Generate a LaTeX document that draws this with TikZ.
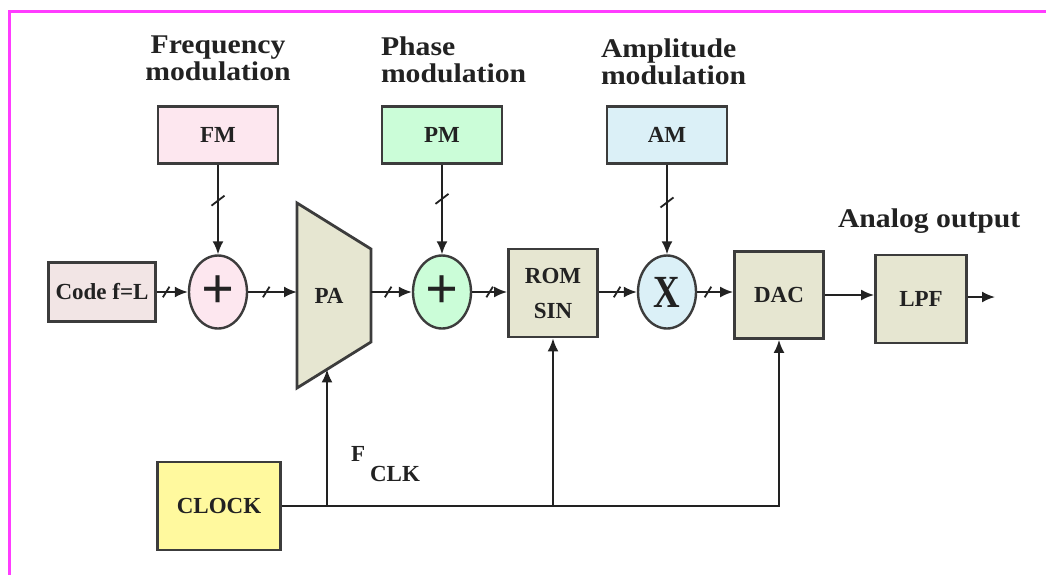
\documentclass[tikz,border=0pt]{standalone}
\usepackage{fontspec}
\setmainfont{Liberation Serif}
\newfontfamily\headserif{Liberation Serif}[FakeStretch=1.1]
\newfontfamily\narrowserif{Liberation Serif}[FakeStretch=0.8]
\usetikzlibrary{arrows.meta,shapes.geometric,decorations.markings}
\definecolor{framepink}{HTML}{FF3CFF}
\definecolor{edgegray}{HTML}{3C3C3C}
\definecolor{inkgray}{HTML}{222222}
\definecolor{codefill}{HTML}{F2E5E5}
\definecolor{fmfill}{HTML}{FDE7EF}
\definecolor{pmfill}{HTML}{CBFDD8}
\definecolor{amfill}{HTML}{DBF0F7}
\definecolor{blockfill}{HTML}{E6E6D1}
\definecolor{clockfill}{HTML}{FFF99E}
\begin{document}
\begin{tikzpicture}[x=1pt,y=-1pt,line width=2pt,color=inkgray,
  arr/.style={-{Latex[length=13pt,width=11pt]}},
  block/.style={draw=edgegray,line width=2.8pt,inner sep=0pt,align=center,font=\bfseries\fontsize{23}{35}\selectfont},
  summer/.style={ellipse,draw=edgegray,line width=2.4pt,minimum width=58pt,minimum height=73pt,inner sep=0pt},
  head/.style={inner sep=0pt,align=left,font=\headserif\bfseries\fontsize{27}{27}\selectfont},
  lab/.style={inner sep=0pt,font=\bfseries\fontsize{23}{23}\selectfont},
  bus/.style={arr,postaction={decorate,decoration={markings,mark=at position #1 with
    {\pgftransformresetnontranslations\draw[-,line width=1.8pt] (-3.3pt,-5.3pt)--(3.3pt,5.3pt);}}}},
  vbus/.style={arr,postaction={decorate,decoration={markings,mark=at position #1 with
    {\pgftransformresetnontranslations\draw[-,line width=1.8pt] (-6.5pt,-5pt)--(6.5pt,5pt);}}}}]
  \fill[white] (0,0) rectangle (1046,575);
  \useasboundingbox (0,0) rectangle (1046,575);
  \draw[framepink,line width=3pt] (9,575) -- (9,11.5) -- (1046,11.5);
  % modulation inputs
  \node[head,align=center,anchor=north] (fmlab) at (218,35) {Frequency\\modulation};
  \node[head,anchor=north west] (pmlab) at (380,36) {Phase\\modulation};
  \node[head,anchor=north west] (amlab) at (600,38) {Amplitude\\modulation};
  \node[block,fill=fmfill,minimum width=120pt,minimum height=57pt] (fm) at (218,135) {FM};
  \node[block,fill=pmfill,minimum width=120pt,minimum height=57pt] (pm) at (442,135) {PM};
  \node[block,fill=amfill,minimum width=120pt,minimum height=57pt] (am) at (667,135) {AM};
  % main chain
  \node[block,fill=codefill,minimum width=107pt,minimum height=59pt] (code) at (102,292) {Code f=L};
  \node[summer,fill=fmfill,font=\bfseries\fontsize{58}{58}\selectfont] (fmadd) at (218,292) {+};
  \draw[draw=edgegray,line width=2.8pt,fill=blockfill] (297,203) -- (371,249) -- (371,342) -- (297,388) -- cycle;
  \node[lab] (pa) at (329,296) {PA};
  \coordinate (pa-w) at (297,292);
  \coordinate (pa-e) at (371,292);
  \coordinate (pa-s) at (327,369.4);
  \node[summer,fill=pmfill,font=\bfseries\fontsize{58}{58}\selectfont] (pmadd) at (442,292) {+};
  \node[block,fill=blockfill,minimum width=89pt,minimum height=88pt] (rom) at (553,293) {ROM\\SIN};
  \node[summer,fill=amfill,font=\narrowserif\bfseries\fontsize{46}{46}\selectfont] (mult) at (667,292) {X};
  \node[block,fill=blockfill,minimum width=89pt,minimum height=87pt] (dac) at (779,295) {DAC};
  \node[block,fill=blockfill,minimum width=91pt,minimum height=88pt] (lpf) at (921,299) {LPF};
  \coordinate (out) at (995,297);
  \node[head,anchor=north west] (outlab) at (837,208) {Analog output};
  % clock
  \node[block,fill=clockfill,minimum width=123pt,minimum height=88pt] (clock) at (219,506) {CLOCK};
  \node[lab,anchor=north west] (fclk) at (350,445) {F\kern5pt\raisebox{-20pt}{CLK}};
  % connectors
  \draw[vbus=.4] (fm) -- (fmadd);
  \draw[vbus=.38] (pm) -- (pmadd);
  \draw[vbus=.42] (am) -- (mult);
  \draw[bus=.3] (code) -- (fmadd);
  \draw[bus=.37] (fmadd) -- (pa-w);
  \draw[bus=.42] (pa-e) -- (pmadd);
  \draw[bus=.5] (pmadd) -- (pmadd -| rom.west);
  \draw[bus=.48] (rom.east |- mult) -- (mult);
  \draw[bus=.3] (mult) -- (mult -| dac.west);
  \draw[arr] (dac.east) -- (dac.east -| lpf.west);
  \draw[arr] (lpf.east |- out) -- (out);
  \draw[arr] (clock.east) -| (dac.south);
  \draw[arr] (rom.south |- clock.east) -- (rom.south);
  \draw[arr] (pa-s |- clock.east) -- (pa-s);
\end{tikzpicture}
\end{document}
